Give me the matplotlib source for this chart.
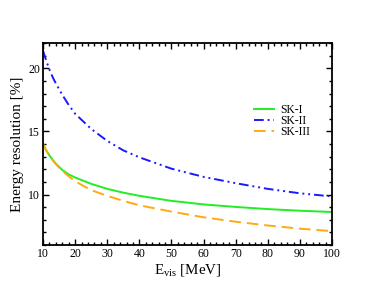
import matplotlib
matplotlib.use('Agg')
import matplotlib.pyplot as plt
from matplotlib.ticker import MultipleLocator

plt.rcParams['font.family'] = 'Liberation Serif'
plt.rcParams['mathtext.fontset'] = 'custom'
plt.rcParams['mathtext.rm'] = 'Liberation Serif'

# visible energy [MeV]
energy = [10, 11, 12, 13, 14, 16, 18, 20, 25, 30, 35, 40, 50, 60, 70, 80, 90, 100]
# energy resolution [%]
sk1 = [14.0, 13.5, 13.1, 12.75, 12.45, 11.95, 11.6, 11.35, 10.85, 10.45, 10.15, 9.9,
       9.5, 9.22, 9.02, 8.85, 8.72, 8.62]
sk2 = [21.4, 20.6, 19.9, 19.3, 18.8, 17.9, 17.1, 16.4, 15.2, 14.25, 13.5, 12.95,
       12.05, 11.4, 10.9, 10.45, 10.1, 9.85]
sk3 = [14.0, 13.5, 13.08, 12.72, 12.4, 11.88, 11.45, 11.05, 10.35, 9.9, 9.5, 9.15,
       8.65, 8.2, 7.85, 7.55, 7.3, 7.1]
labels = ['SK-I', 'SK-II', 'SK-III']

fig = plt.figure(figsize=(3.74, 2.89), dpi=100)
ax = fig.add_axes([0.115, 0.152, 0.773, 0.699])

ax.plot(energy, sk1, color='#22ee22', lw=1.4, label=labels[0])
ax.plot(energy, sk2, color='#1a1aff', lw=1.4, dashes=[5, 2, 1, 2, 1, 2], label=labels[1])
ax.plot(energy, sk3, color='#ffaa11', lw=1.4, dashes=[6, 3], label=labels[2])

ax.set_xlim(10, 100)
ax.set_ylim(6, 22)
ax.xaxis.set_major_locator(MultipleLocator(10))
ax.xaxis.set_minor_locator(MultipleLocator(2))
ax.yaxis.set_major_locator(MultipleLocator(5))
ax.yaxis.set_minor_locator(MultipleLocator(1))
ax.tick_params(which='both', direction='in', top=True, right=True, width=1.0,
               labelsize=8.5, pad=2)
ax.tick_params(which='major', length=4.5)
ax.tick_params(which='minor', length=2.5)
for s in ax.spines.values():
    s.set_linewidth(1.3)

ax.set_xlabel(r'E$_{\rm vis}$ [MeV]', fontsize=10.8, labelpad=2)
ax.set_ylabel('Energy resolution [%]', fontsize=11, labelpad=3)

ax.legend(loc='upper left', bbox_to_anchor=(0.713, 0.72), frameon=False,
          fontsize=8.4, handlelength=1.75, handletextpad=0.5, labelspacing=-0.08,
          borderaxespad=0)

fig.savefig('out.png', dpi=100)
